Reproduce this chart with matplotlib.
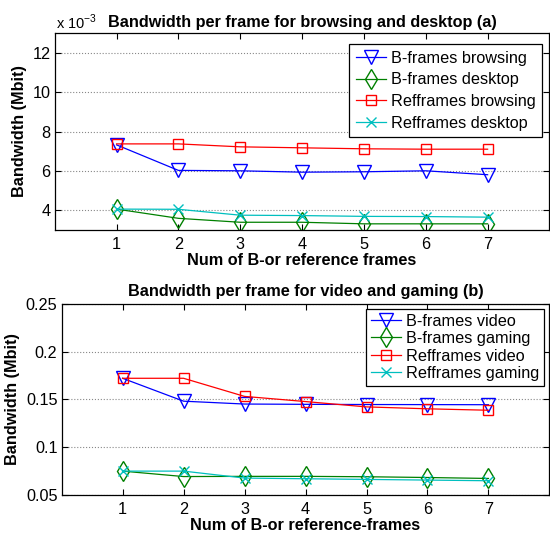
import numpy as np
import matplotlib
matplotlib.use("Agg")
import matplotlib.pyplot as plt
from matplotlib.ticker import FuncFormatter

plt.rcParams['font.family'] = ['Liberation Sans', 'DejaVu Sans']
plt.rcParams['mathtext.fontset'] = 'custom'
plt.rcParams['mathtext.rm'] = 'Liberation Sans'

# data
frames = [1, 2, 3, 4, 5, 6, 7]

# (a) values in Mbit
bframes_browsing = [7.32e-3, 6.02e-3, 6.0e-3, 5.93e-3, 5.95e-3, 6.0e-3, 5.8e-3]
bframes_desktop = [4.05e-3, 3.58e-3, 3.38e-3, 3.38e-3, 3.3e-3, 3.3e-3, 3.3e-3]
refframes_browsing = [7.37e-3, 7.37e-3, 7.22e-3, 7.17e-3, 7.12e-3, 7.1e-3, 7.1e-3]
refframes_desktop = [4.05e-3, 4.04e-3, 3.74e-3, 3.72e-3, 3.68e-3, 3.67e-3, 3.64e-3]

# (b)
bframes_video = [0.172, 0.148, 0.145, 0.1447, 0.1445, 0.1444, 0.1443]
bframes_gaming = [0.0747, 0.069, 0.0692, 0.0692, 0.0688, 0.068, 0.067]
refframes_video = [0.172, 0.172, 0.153, 0.1476, 0.142, 0.140, 0.1385]
refframes_gaming = [0.0747, 0.0747, 0.0674, 0.0667, 0.066, 0.0653, 0.0646]

blue = (0, 0, 1)
green = (0, 0.5, 0)
red = (1, 0, 0)
cyan = (0, 0.75, 0.75)
fs = 11.7

fig = plt.figure(figsize=(5.5, 5.33), dpi=100)
ax1 = fig.add_axes([0.0995, 0.569, 0.8995, 0.3685])
ax2 = fig.add_axes([0.112, 0.0719, 0.887, 0.358])

def style(ax):
    ax.set_xlim(0, 8)
    ax.set_xticks(frames)
    ax.tick_params(direction='in', top=True, right=True, labelsize=fs, length=4)
    ax.tick_params(axis='x', pad=5)
    ax.tick_params(axis='y', pad=3)
    ax.yaxis.grid(True, linestyle=':', color='#888888', linewidth=0.8)
    ax.set_axisbelow(True)
    for s in ax.spines.values():
        s.set_linewidth(0.9)

lw = 0.9
ax1.plot(frames, bframes_browsing, color=blue, marker='v', mfc='none', ms=10, lw=lw, label='B-frames browsing')
ax1.plot(frames, bframes_desktop, color=green, marker='d', mfc='none', ms=10, lw=lw, label='B-frames desktop')
ax1.plot(frames, refframes_browsing, color=red, marker='s', mfc='none', ms=7.5, lw=lw, label='Refframes browsing')
ax1.plot(frames, refframes_desktop, color=cyan, marker='x', ms=7, lw=lw, label='Refframes desktop')
style(ax1)
ax1.set_ylim(3e-3, 13e-3)
ax1.set_yticks([4e-3, 6e-3, 8e-3, 10e-3, 12e-3])
ax1.yaxis.set_major_formatter(FuncFormatter(lambda v, p: '%g' % round(v * 1e3, 6)))
ax1.text(0.002, 1.022, r'x 10$^{-3}$', transform=ax1.transAxes, fontsize=10.5, va='baseline', ha='left')
ax1.set_title('Bandwidth per frame for browsing and desktop (a)', fontsize=fs, fontweight='bold', pad=4.2)
ax1.set_xlabel('Num of B-or reference frames', fontsize=fs, fontweight='bold', labelpad=1)
ax1.set_ylabel('Bandwidth (Mbit)', fontsize=fs, fontweight='bold', labelpad=4)
leg = ax1.legend(loc='upper right', bbox_to_anchor=(0.985, 0.9455), borderaxespad=0, fontsize=fs,
                 fancybox=False, edgecolor='black', framealpha=1, handlelength=1.85,
                 handletextpad=0.3, borderpad=0.4, labelspacing=0.42)
leg.get_frame().set_linewidth(0.9)

ax2.plot(frames, bframes_video, color=blue, marker='v', mfc='none', ms=10, lw=lw, label='B-frames video')
ax2.plot(frames, bframes_gaming, color=green, marker='d', mfc='none', ms=10, lw=lw, label='B-frames gaming')
ax2.plot(frames, refframes_video, color=red, marker='s', mfc='none', ms=7.5, lw=lw, label='Refframes video')
ax2.plot(frames, refframes_gaming, color=cyan, marker='x', ms=7, lw=lw, label='Refframes gaming')
style(ax2)
ax2.set_ylim(0.05, 0.25)
ax2.set_yticks([0.05, 0.1, 0.15, 0.2, 0.25])
ax2.yaxis.set_major_formatter(FuncFormatter(lambda v, p: '%g' % round(v, 6)))
ax2.set_title('Bandwidth per frame for video and gaming (b)', fontsize=fs, fontweight='bold', pad=5.5)
ax2.set_xlabel('Num of B-or reference-frames', fontsize=fs, fontweight='bold', labelpad=1)
ax2.set_ylabel('Bandwidth (Mbit)', fontsize=fs, fontweight='bold', labelpad=4)
leg = ax2.legend(loc='upper right', bbox_to_anchor=(0.9887, 0.974), borderaxespad=0, fontsize=fs,
                 fancybox=False, edgecolor='black', framealpha=1, handlelength=1.85,
                 handletextpad=0.3, borderpad=0.3, labelspacing=0.15)
leg.get_frame().set_linewidth(0.9)

fig.savefig('out.png', dpi=100)
